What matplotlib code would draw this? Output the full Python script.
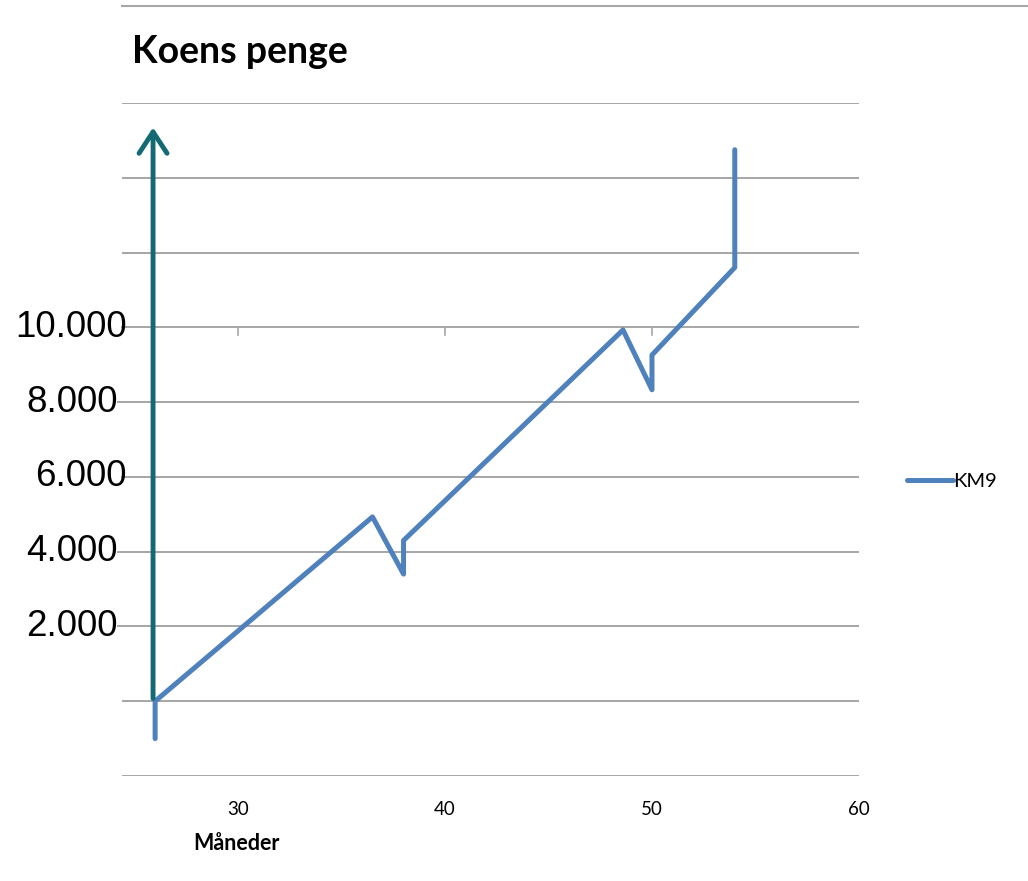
import matplotlib
matplotlib.use("Agg")
import matplotlib.pyplot as plt
from matplotlib.lines import Line2D

# KM9 series: month vs. money
months = [26, 26, 36.5, 38, 38, 48.6, 50, 50, 54, 54]
money = [-1000, 0, 4930, 3400, 4300, 9930, 8330, 9260, 11600, 14750]

grid_values = [-2000, 0, 2000, 4000, 6000, 8000, 10000, 12000, 14000, 16000]
ylabels = ["2.000", "4.000", "6.000", "8.000", "10.000"]
ylabel_values = [2000, 4000, 6000, 8000, 10000]
xticks = [30, 40, 50, 60]

W, H = 1028, 881
fig = plt.figure(figsize=(W / 100, H / 100), dpi=100)
ax = fig.add_axes([122 / W, 1 - 776 / H, (859 - 122) / W, (776 - 103) / H])
ax.set_xlim(24.4, 60)
ax.set_ylim(-2000, 16000)
for s in ax.spines.values():
    s.set_visible(False)

gray = "#a6a6a6"
for g in grid_values:
    ax.axhline(g, color=gray, lw=1.4, zorder=0)

# small tick marks hanging under the 10.000 line
for t in [30, 40, 50]:
    ax.plot([t, t], [10000, 9800], color=gray, lw=1.2, zorder=0)

ax.set_xticks(xticks)
ax.set_xticklabels([str(t) for t in xticks], fontsize=13.5, family="Lato")
ax.tick_params(axis="x", length=0, pad=18)
ax.set_yticks([])

# hand-placed value labels with short leader lines
label_right = {2000: 118, 4000: 118, 6000: 127, 8000: 118, 10000: 127}
for v, txt in zip(ylabel_values, ylabels):
    xr = (label_right[v] - 122) / (859 - 122)
    ax.text(xr, v, txt, transform=ax.get_yaxis_transform(), ha="right",
            va="center", fontsize=26.5, family="Liberation Sans", clip_on=False)
    ax.plot([xr, 0], [v, v], transform=ax.get_yaxis_transform(),
            color=gray, lw=1.4, clip_on=False, zorder=0)

ax.plot(months, money, color="#4f81bd", lw=3.6, solid_joinstyle="round",
        solid_capstyle="round", label="KM9", clip_on=False, zorder=3)

ax.annotate("", xy=(25.9, 15420), xytext=(25.9, 0),
            arrowprops=dict(arrowstyle="->,head_length=0.55,head_width=0.36",
                            color="#146a72", lw=3.5, mutation_scale=28),
            zorder=4)

leg = ax.legend(loc="center left", bbox_to_anchor=(889 / W, 1 - 481 / H),
                bbox_transform=fig.transFigure, frameon=False,
                prop={"family": "Lato", "size": 14.5}, handlelength=2.3,
                handletextpad=0.0)

fig.text(132 / W, 1 - 52 / H, "Koens penge", fontsize=27, fontweight="bold",
         family="Lato", va="center")
fig.text(193 / W, 1 - 843 / H, "Måneder", fontsize=15.5, fontweight="bold",
         family="Lato", va="center")

fig.add_artist(Line2D([122 / W, 1], [1 - 6 / H, 1 - 6 / H], color=gray, lw=1.5))

fig.savefig("out.png", dpi=100)
